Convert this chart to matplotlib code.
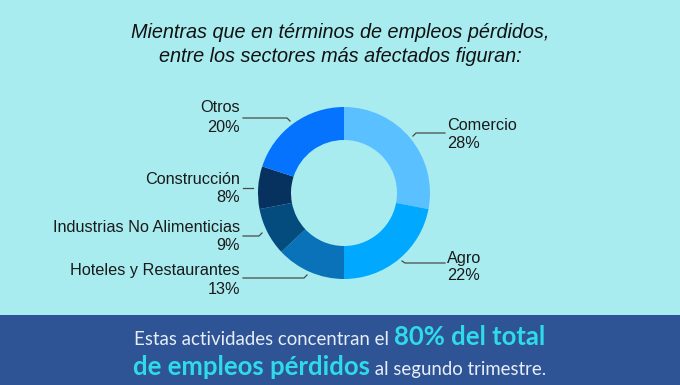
import matplotlib

matplotlib.use("Agg")
import matplotlib.pyplot as plt  # noqa: E402
from matplotlib.patches import Rectangle  # noqa: E402

# data
sectors = ["Comercio", "Agro", "Hoteles y Restaurantes",
           "Industrias No Alimenticias", "Construcción", "Otros"]
shares = [28, 22, 13, 9, 8, 20]
colors = ["#5ac0ff", "#00a8ff", "#0a72b8", "#044b7e", "#07315f", "#0673ff"]

title_lines = ["Mientras que en términos de empleos pérdidos,",
               "entre los sectores más afectados figuran:"]
foot_1 = [("Estas actividades concentran el ", False), ("80% del total", True)]
foot_2 = [("de empleos pérdidos", True), (" al segundo trimestre.", False)]

BG = "#a8ecf0"
BAND = "#2e5496"
CYAN = "#2fdbe9"
W, H = 680, 385

fig = plt.figure(figsize=(W / 100, H / 100), dpi=100, facecolor=BG)

# bottom band
fig.patches.append(Rectangle((0, 0), 1, 70 / H, transform=fig.transFigure,
                             facecolor=BAND, edgecolor="none", zorder=0))

# title
for k, yy in enumerate((33, 56)):
    fig.text(0.5, 1 - yy / H, title_lines[k], ha="center", va="center",
             fontsize=14.3, style="italic", family="Liberation Sans", color="#111111")

# donut: center (344, 193) px, outer radius 86 px
cx, cy, R = 344, 193, 86
ax = fig.add_axes([(cx - R) / W, 1 - (cy + R) / H, 2 * R / W, 2 * R / H])
ax.pie(shares, colors=colors, startangle=90, counterclock=False,
       wedgeprops=dict(width=33 / 86, edgecolor="none"), radius=1)
ax.set_xlim(-1, 1); ax.set_ylim(-1, 1)
ax.set_aspect("auto")
ax.axis("off")


def px(x, y):
    return x / W, 1 - y / H


lab_kw = dict(fontsize=11.7, family="Liberation Sans", color="#1a1a1a")
line_kw = dict(color="#4a4a4a", lw=0.9, transform=fig.transFigure)

# right-side labels: (index, text y1, text y2, leader pts)
right = [
    (0, 125, 143, [(445, 133), (416, 133), (413, 136)]),
    (1, 258, 276, [(445, 263), (405, 263), (402, 261)]),
]
for i, y1, y2, pts in right:
    fig.text(*px(447, y1), sectors[i], ha="left", va="center", **lab_kw)
    fig.text(*px(447, y2), f"{shares[i]}%", ha="left", va="center", **lab_kw)
    xs, ys = zip(*[px(x, y) for x, y in pts])
    fig.lines.append(plt.Line2D(xs, ys, **line_kw))

left = [
    (5, 107, 128, [(243, 118), (287, 118), (290, 121)]),
    (4, 179, 198, [(243, 188), (253, 188)]),
    (3, 227, 246, [(243, 236), (259, 236), (262, 233)]),
    (2, 271, 290, [(243, 278), (304, 278), (307, 275)]),
]
for i, y1, y2, pts in left:
    fig.text(*px(240, y1), sectors[i], ha="right", va="center", **lab_kw)
    fig.text(*px(240, y2), f"{shares[i]}%", ha="right", va="center", **lab_kw)
    xs, ys = zip(*[px(x, y) for x, y in pts])
    fig.lines.append(plt.Line2D(xs, ys, **line_kw))

# footer with mixed styles, centered
renderer = fig.canvas.get_renderer()


def rich_line(parts, y):
    texts = []
    x = 0.0
    for s, bold in parts:
        t = fig.text(x, y, s, va="baseline", ha="left", family="Lato",
                     fontsize=18.5 if bold else 13.4,
                     weight="bold" if bold else "normal",
                     color=CYAN if bold else "#e8eef8")
        bb = t.get_window_extent(renderer)
        texts.append((t, bb.width))
        x += bb.width / W
    total = sum(w for _, w in texts) / W
    x = 0.5 - total / 2
    for t, w in texts:
        t.set_x(x)
        x += w / W


rich_line(foot_1, 1 - 345 / H)
rich_line(foot_2, 1 - 375 / H)

fig.savefig("out.png", dpi=100, facecolor=BG)
